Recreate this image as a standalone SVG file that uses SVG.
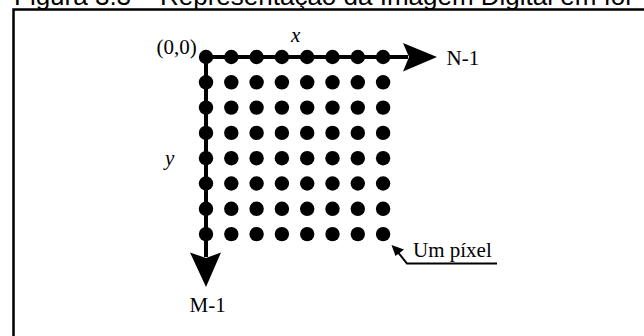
<svg xmlns="http://www.w3.org/2000/svg" xmlns:xlink="http://www.w3.org/1999/xlink" width="644" height="336" viewBox="0 0 644 336">
<style>
.serif{font-family:"Liberation Serif","Times New Roman",serif;font-size:21px;fill:#000}
.title{font-family:"Liberation Sans",Arial,sans-serif;font-size:26px;fill:#000}
.axis{stroke:#000;stroke-width:4;fill:none}
</style>
<defs>
<circle id="d" r="7.2" fill="#000"/>
</defs>
<rect width="644" height="336" fill="#fff"/>
<text class="title" x="14" y="5">Figura 3.3 – Representação da Imagem Digital em for</text>
<rect x="13.5" y="9.5" width="700" height="400" fill="none" stroke="#000" stroke-width="2.5"/>
<g id="connectors">
<line class="axis" x1="206" y1="57" x2="408" y2="57"/>
<path d="M437,57 L403,43 L409,57 L403,71.5 Z" fill="#000"/>
<line class="axis" x1="206" y1="57" x2="206" y2="257"/>
<path d="M206,287 L190,252.5 L206,258 L221,252.5 Z" fill="#000"/>
<polyline points="497,263.5 407,263.5 397,251" fill="none" stroke="#000" stroke-width="2"/>
<path d="M391.5,245 L404,249.5 L395.5,256 Z" fill="#000"/>
</g>
<g id="grid">
<g id="row0"><use xlink:href="#d" x="206" y="57"/><use xlink:href="#d" x="231.3" y="57"/><use xlink:href="#d" x="256.6" y="57"/><use xlink:href="#d" x="281.9" y="57"/><use xlink:href="#d" x="307.2" y="57"/><use xlink:href="#d" x="332.5" y="57"/><use xlink:href="#d" x="357.8" y="57"/><use xlink:href="#d" x="383.1" y="57"/></g>
<g id="row1"><use xlink:href="#d" x="206" y="82.3"/><use xlink:href="#d" x="231.3" y="82.3"/><use xlink:href="#d" x="256.6" y="82.3"/><use xlink:href="#d" x="281.9" y="82.3"/><use xlink:href="#d" x="307.2" y="82.3"/><use xlink:href="#d" x="332.5" y="82.3"/><use xlink:href="#d" x="357.8" y="82.3"/><use xlink:href="#d" x="383.1" y="82.3"/></g>
<g id="row2"><use xlink:href="#d" x="206" y="107.6"/><use xlink:href="#d" x="231.3" y="107.6"/><use xlink:href="#d" x="256.6" y="107.6"/><use xlink:href="#d" x="281.9" y="107.6"/><use xlink:href="#d" x="307.2" y="107.6"/><use xlink:href="#d" x="332.5" y="107.6"/><use xlink:href="#d" x="357.8" y="107.6"/><use xlink:href="#d" x="383.1" y="107.6"/></g>
<g id="row3"><use xlink:href="#d" x="206" y="132.9"/><use xlink:href="#d" x="231.3" y="132.9"/><use xlink:href="#d" x="256.6" y="132.9"/><use xlink:href="#d" x="281.9" y="132.9"/><use xlink:href="#d" x="307.2" y="132.9"/><use xlink:href="#d" x="332.5" y="132.9"/><use xlink:href="#d" x="357.8" y="132.9"/><use xlink:href="#d" x="383.1" y="132.9"/></g>
<g id="row4"><use xlink:href="#d" x="206" y="158.2"/><use xlink:href="#d" x="231.3" y="158.2"/><use xlink:href="#d" x="256.6" y="158.2"/><use xlink:href="#d" x="281.9" y="158.2"/><use xlink:href="#d" x="307.2" y="158.2"/><use xlink:href="#d" x="332.5" y="158.2"/><use xlink:href="#d" x="357.8" y="158.2"/><use xlink:href="#d" x="383.1" y="158.2"/></g>
<g id="row5"><use xlink:href="#d" x="206" y="183.5"/><use xlink:href="#d" x="231.3" y="183.5"/><use xlink:href="#d" x="256.6" y="183.5"/><use xlink:href="#d" x="281.9" y="183.5"/><use xlink:href="#d" x="307.2" y="183.5"/><use xlink:href="#d" x="332.5" y="183.5"/><use xlink:href="#d" x="357.8" y="183.5"/><use xlink:href="#d" x="383.1" y="183.5"/></g>
<g id="row6"><use xlink:href="#d" x="206" y="208.8"/><use xlink:href="#d" x="231.3" y="208.8"/><use xlink:href="#d" x="256.6" y="208.8"/><use xlink:href="#d" x="281.9" y="208.8"/><use xlink:href="#d" x="307.2" y="208.8"/><use xlink:href="#d" x="332.5" y="208.8"/><use xlink:href="#d" x="357.8" y="208.8"/><use xlink:href="#d" x="383.1" y="208.8"/></g>
<g id="row7"><use xlink:href="#d" x="206" y="234.1"/><use xlink:href="#d" x="231.3" y="234.1"/><use xlink:href="#d" x="256.6" y="234.1"/><use xlink:href="#d" x="281.9" y="234.1"/><use xlink:href="#d" x="307.2" y="234.1"/><use xlink:href="#d" x="332.5" y="234.1"/><use xlink:href="#d" x="357.8" y="234.1"/><use xlink:href="#d" x="383.1" y="234.1"/></g>
</g>
<g id="labels">
<text class="serif" x="156.5" y="54">(0,0)</text>
<text class="serif" x="291" y="41.5" font-style="italic">x</text>
<text class="serif" x="165" y="164.5" font-style="italic">y</text>
<text class="serif" x="446.5" y="64.5">N-1</text>
<text class="serif" x="189.5" y="311.5">M-1</text>
<text class="serif" x="413" y="256.5">Um píxel</text>
</g>
</svg>
